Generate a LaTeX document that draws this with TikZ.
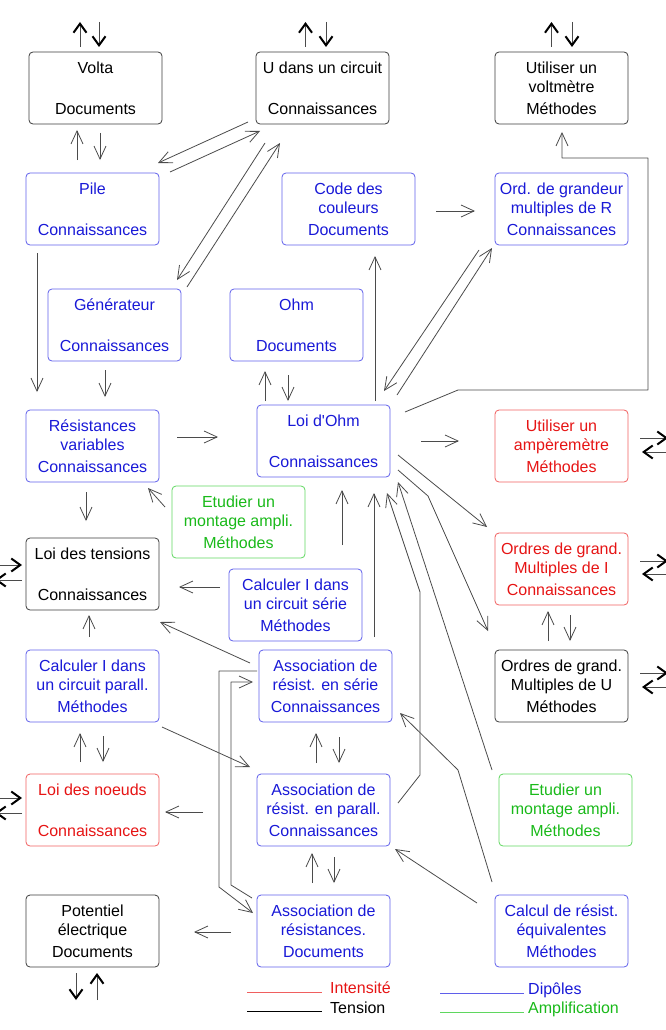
\documentclass[tikz,border=0pt]{standalone}
\usepackage{fontspec}
\setmainfont{Liberation Sans}
\usetikzlibrary{arrows.meta}
\definecolor{bbord}{RGB}{95,95,235}
\definecolor{btext}{RGB}{25,25,215}
\definecolor{rbord}{RGB}{240,95,95}
\definecolor{rtext}{RGB}{230,20,20}
\definecolor{gbord}{RGB}{95,215,95}
\definecolor{gtext}{RGB}{25,185,25}
\definecolor{kbord}{RGB}{60,60,60}
\definecolor{lgray}{RGB}{75,75,75}
\begin{document}
\begin{tikzpicture}[x=1pt,y=-1pt,line join=round,
  box/.style={draw=kbord,rounded corners=4pt,minimum width=133pt,minimum height=72pt,inner sep=0pt,outer sep=0pt,align=center,font=\fontsize{16}{19}\selectfont,line width=0.8pt},
  bbox/.style={box,draw=bbord,text=btext},
  rbox/.style={box,draw=rbord,text=rtext},
  gbox/.style={box,draw=gbord,text=gtext},
  link/.style={draw=lgray,line width=0.8pt,-{Straight Barb[length=13pt,width=12pt]}},
  outarr/.style={draw=lgray,line width=0.8pt,-{Straight Barb[length=9pt,width=13pt,line width=2pt,color=black]}},
  legtext/.style={anchor=base west,inner sep=0pt,font=\fontsize{16}{19}\selectfont}]
\useasboundingbox (0,0) rectangle (665,1030);
\node[box] (volta) at (95.5,88) {Volta\\[22pt]Documents};
\node[box] (udans) at (322.5,88) {U dans un circuit\\[22pt]Connaissances};
\node[box] (voltm) at (561.5,88) {Utiliser un\\voltmètre\\[3pt]Méthodes};
\node[bbox] (pile) at (92.5,209) {Pile\\[22pt]Connaissances};
\node[bbox] (code) at (348.5,209) {Code des\\couleurs\\[3pt]Documents};
\node[bbox] (ordr) at (561.5,209) {Ord. de grandeur\\multiples de R\\[3pt]Connaissances};
\node[bbox] (gen) at (114.5,325) {Générateur\\[22pt]Connaissances};
\node[bbox] (ohm) at (296.5,325) {Ohm\\[22pt]Documents};
\node[bbox] (resvar) at (92.5,446) {Résistances\\variables\\[3pt]Connaissances};
\node[bbox] (loiohm) at (323.5,441) {Loi d\textquotesingle Ohm\\[22pt]Connaissances};
\node[rbox] (amp) at (561.5,446) {Utiliser un\\ampèremètre\\[3pt]Méthodes};
\node[gbox] (etud1) at (238.5,522) {Etudier un\\montage ampli.\\[3pt]Méthodes};
\node[box] (loitens) at (92.5,574) {Loi des tensions\\[22pt]Connaissances};
\node[bbox] (calcser) at (295.5,605) {Calculer I dans\\un circuit série\\[3pt]Méthodes};
\node[rbox] (ordi) at (561.5,569) {Ordres de grand.\\Multiples de I\\[3pt]Connaissances};
\node[bbox] (calcpar) at (92.5,686) {Calculer I dans\\un circuit parall.\\[3pt]Méthodes};
\node[bbox] (assser) at (325.5,686) {Association de\\résist. en série\\[3pt]Connaissances};
\node[box] (ordu) at (561.5,686) {Ordres de grand.\\Multiples de U\\[3pt]Méthodes};
\node[rbox] (noeuds) at (92.5,810) {Loi des noeuds\\[22pt]Connaissances};
\node[bbox] (asspar) at (323.5,810) {Association de\\résist. en parall.\\[3pt]Connaissances};
\node[gbox] (etud2) at (565.5,810) {Etudier un\\montage ampli.\\[3pt]Méthodes};
\node[box] (potent) at (92.5,931) {Potentiel\\électrique\\[3pt]Documents};
\node[bbox] (assres) at (323.5,931) {Association de\\résistances.\\[3pt]Documents};
\node[bbox] (calcres) at (561.5,931) {Calcul de résist.\\équivalentes\\[3pt]Méthodes};
\foreach \n/\u/\d in {volta/-15.5/3.5,udans/-17/3.5,voltm/-10/10.5}{
  \draw[outarr] ([shift={(\u,-5)}]\n.north) -- ++(0,-25);
  \draw[outarr] ([shift={(\d,-30)}]\n.north) -- ++(0,25);}
\foreach \n/\a/\b in {amp/-8/6,ordi/-8/5,ordu/-13/1}{
  \draw[outarr] ([shift={(12,\a)}]\n.east) -- ++(28,0);
  \draw[outarr] ([shift={(40,\b)}]\n.east) -- ++(-26,0);}
\foreach \n/\a/\b in {loitens/-9/6,noeuds/-12/3}{
  \draw[outarr] ([shift={(-31,\a)}]\n.west) -- ++(27,0);
  \draw[outarr] ([shift={(-4,\b)}]\n.west) -- ++(-27,0);}
\draw[outarr] ([shift={(-16.5,6)}]potent.south) -- ++(0,27);
\draw[outarr] ([shift={(4.5,33)}]potent.south) -- ++(0,-27);
\draw[link] ([shift={(-15.5,-13)}]pile.north) -- ([shift={(-18.5,6)}]volta.south);
\draw[link] ([shift={(4.5,9)}]volta.south) -- ([shift={(7.5,-13)}]pile.north);
\draw[link] ([shift={(-8,-2)}]udans.south west) -- ([shift={(-1,-10)}]pile.north east);
\draw[link] ([shift={(11,-1)}]pile.north east) -- ([shift={(4,7)}]udans.south west);
\draw[link] ([shift={(9,19)}]udans.south west) -- ([shift={(-4,-9)}]gen.north east);
\draw[link] ([shift={(6,-2)}]gen.north east) -- ([shift={(24,19)}]udans.south west);
\draw[link] ([shift={(11,8)}]pile.south west) -- ([shift={(11,-18)}]resvar.north west);
\draw[link] ([shift={(-9.5,9)}]gen.south) -- ([shift={(12.5,-13)}]resvar.north);
\draw[link] ([shift={(-58.5,-4)}]loiohm.north) -- ([shift={(-31.5,10)}]ohm.south);
\draw[link] ([shift={(-8.5,14)}]ohm.south) -- ([shift={(-35.5,-4)}]loiohm.north);
\draw[link] ([shift={(51.5,-4)}]loiohm.north) -- ([shift={(26.5,11)}]code.south);
\draw[link] ([shift={(21,2)}]code.east) -- ([shift={(-20,2)}]ordr.west);
\draw[link] ([shift={(-16,5)}]ordr.south west) -- ([shift={(-6,-14)}]loiohm.north east);
\draw[link] ([shift={(7,-10)}]loiohm.north east) -- ([shift={(-3,3)}]ordr.south west);
\draw[link] ([shift={(15,7)}]loiohm.north east) -- ++(53,-22) -- ++(190,0) |- ([shift={(0.5,34)}]voltm.south) -- ([shift={(0.5,8)}]voltm.south);
\draw[link] ([shift={(18,-9)}]resvar.east) -- ([shift={(-39,-4)}]loiohm.west);
\draw[link] ([shift={(31,0)}]loiohm.east) -- ([shift={(-36,-5)}]amp.west);
\draw[link] ([shift={(-6.5,10)}]resvar.south) -- ([shift={(-6.5,-17)}]loitens.north);
\draw[link] ([shift={(-7,-15)}]etud1.west) -- ([shift={(-11,6)}]resvar.south east);
\draw[link] ([shift={(-9,-18)}]calcser.west) -- ([shift={(20,13)}]loitens.east);
\draw[link] ([shift={(46.5,-24)}]calcser.north) -- ([shift={(18.5,13)}]loiohm.south);
\draw[link] ([shift={(48.5,-13)}]assser.north) -- ([shift={(50.5,16)}]loiohm.south);
\draw[link] ([shift={(8,-7)}]asspar.east) -- ++(22,-28) -- ++(0,-183) -- ([shift={(63.5,16)}]loiohm.south);
\draw[link] ([shift={(-7,-4)}]etud2.north west) -- ([shift={(8,5)}]loiohm.south east);
\draw[link] ([shift={(8,14)}]loiohm.east) -- ([shift={(-8,-6)}]ordi.north west);
\draw[link] ([shift={(8,29)}]loiohm.east) -- ++(30,26) -- ([shift={(-7,-19)}]ordu.north west);
\draw[link] ([shift={(-13.5,-9)}]ordu.north) -- ([shift={(-13.5,6)}]ordi.south);
\draw[link] ([shift={(8.5,10)}]ordi.south) -- ([shift={(8.5,-9)}]ordu.north);
\draw[link] ([shift={(-9,-23)}]assser.west) -- ([shift={(1,12)}]loitens.south east);
\draw[link] ([shift={(-3.5,-13)}]calcpar.north) -- ([shift={(-3.5,5)}]loitens.south);
\draw[link] ([shift={(3,5)}]calcpar.south east) -- ([shift={(-7,-7)}]asspar.north west);
\draw[link] ([shift={(-12.5,-12)}]noeuds.north) -- ([shift={(-12.5,11)}]calcpar.south);
\draw[link] ([shift={(10.5,14)}]calcpar.south) -- ([shift={(10.5,-12)}]noeuds.north);
\draw[link] ([shift={(-7.5,-11)}]asspar.north) -- ([shift={(-9.5,11)}]assser.south);
\draw[link] ([shift={(13.5,15)}]assser.south) -- ([shift={(15.5,-11)}]asspar.north);
\draw[link] ([shift={(-54,2)}]asspar.west) -- ([shift={(6,2)}]noeuds.east);
\draw[link] ([shift={(-11.5,-12)}]assres.north) -- ([shift={(-11.5,7)}]asspar.south);
\draw[link] ([shift={(10.5,11)}]asspar.south) -- ([shift={(10.5,-12)}]assres.north);
\draw[link] ([shift={(-26,1)}]assres.west) -- ([shift={(35,1)}]potent.east);
\draw[link] ([shift={(-18,8)}]calcres.north west) -- ([shift={(5,3)}]asspar.south east);
\draw[link] ([shift={(-3,-13)}]calcres.north west) -- ++(-34,-112) -- ([shift={(8,27)}]assser.east);
\draw[link] ([shift={(-2,-15)}]assser.west) -- ++(-38,0) -- ++(0,216) -- ([shift={(-4,-18)}]assres.west);
\draw[link] ([shift={(-5,3)}]assres.north west) -- ++(-21,-13) -- ++(0,-203) -- ([shift={(-6,-4)}]assser.west);
\node[legtext,text=rtext] (lint) at (330,993) {Intensité};
\node[legtext] (lten) at (330,1013) {Tension};
\node[legtext,text=btext] (ldip) at (528,994) {Dipôles};
\node[legtext,text=gtext] (lamp) at (528,1013) {Amplification};
\draw[rbord,line width=0.8pt] ([shift={(-83,-1)}]lint.base west) -- ([shift={(-8,-1)}]lint.base west);
\draw[black,line width=0.8pt] ([shift={(-83,-2)}]lten.base west) -- ([shift={(-8,-2)}]lten.base west);
\draw[bbord,line width=0.8pt] ([shift={(-88,-1)}]ldip.base west) -- ([shift={(-4,-1)}]ldip.base west);
\draw[gbord,line width=0.8pt] ([shift={(-88,-1)}]lamp.base west) -- ([shift={(-4,-1)}]lamp.base west);
\end{tikzpicture}
\end{document}
